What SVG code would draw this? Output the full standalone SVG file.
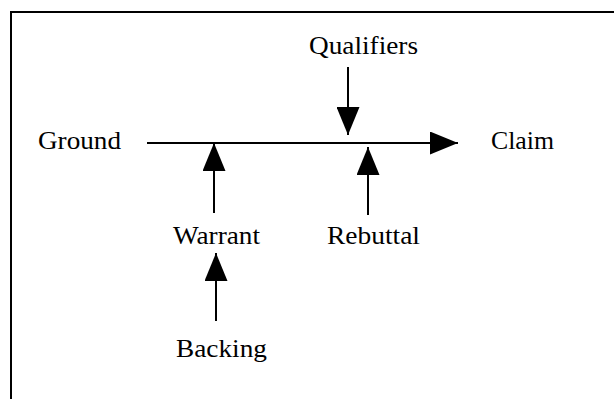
<svg xmlns="http://www.w3.org/2000/svg" width="614" height="399" viewBox="0 0 614 399">
<style>
  .lbl { font-family: "Liberation Serif", "Times New Roman", serif; font-size: 26px; fill: #000; }
  .conn { stroke: #000; stroke-width: 2; fill: none; marker-end: url(#arrow); }
  .frame { stroke: #000; stroke-width: 2; fill: #fff; }
</style>
<defs>
  <marker id="arrow" markerUnits="userSpaceOnUse" markerWidth="28" markerHeight="23" refX="28" refY="11.5" orient="auto" viewBox="0 0 28 23">
    <path d="M0,0 L28,11.5 L0,23 Z" fill="#000"/>
  </marker>
</defs>
<rect x="0" y="0" width="614" height="399" fill="#fff"/>
<rect class="frame" x="11" y="12" width="620" height="400"/>
<g id="connectors">
  <line class="conn" x1="147" y1="143" x2="458" y2="143"/>
  <line class="conn" x1="348" y1="67" x2="348" y2="135"/>
  <line class="conn" x1="214" y1="213" x2="214" y2="143"/>
  <line class="conn" x1="368" y1="215" x2="368" y2="147"/>
  <line class="conn" x1="216" y1="321" x2="216" y2="253"/>
</g>
<g id="qualifiers"><text class="lbl" x="309" y="54" textLength="109" lengthAdjust="spacingAndGlyphs">Qualifiers</text></g>
<g id="ground"><text class="lbl" x="38" y="149" textLength="83" lengthAdjust="spacingAndGlyphs">Ground</text></g>
<g id="claim"><text class="lbl" x="491" y="149" textLength="63" lengthAdjust="spacingAndGlyphs">Claim</text></g>
<g id="warrant"><text class="lbl" x="173" y="244" textLength="87" lengthAdjust="spacingAndGlyphs">Warrant</text></g>
<g id="rebuttal"><text class="lbl" x="327" y="244" textLength="93" lengthAdjust="spacingAndGlyphs">Rebuttal</text></g>
<g id="backing"><text class="lbl" x="176" y="357" textLength="91" lengthAdjust="spacingAndGlyphs">Backing</text></g>
</svg>
